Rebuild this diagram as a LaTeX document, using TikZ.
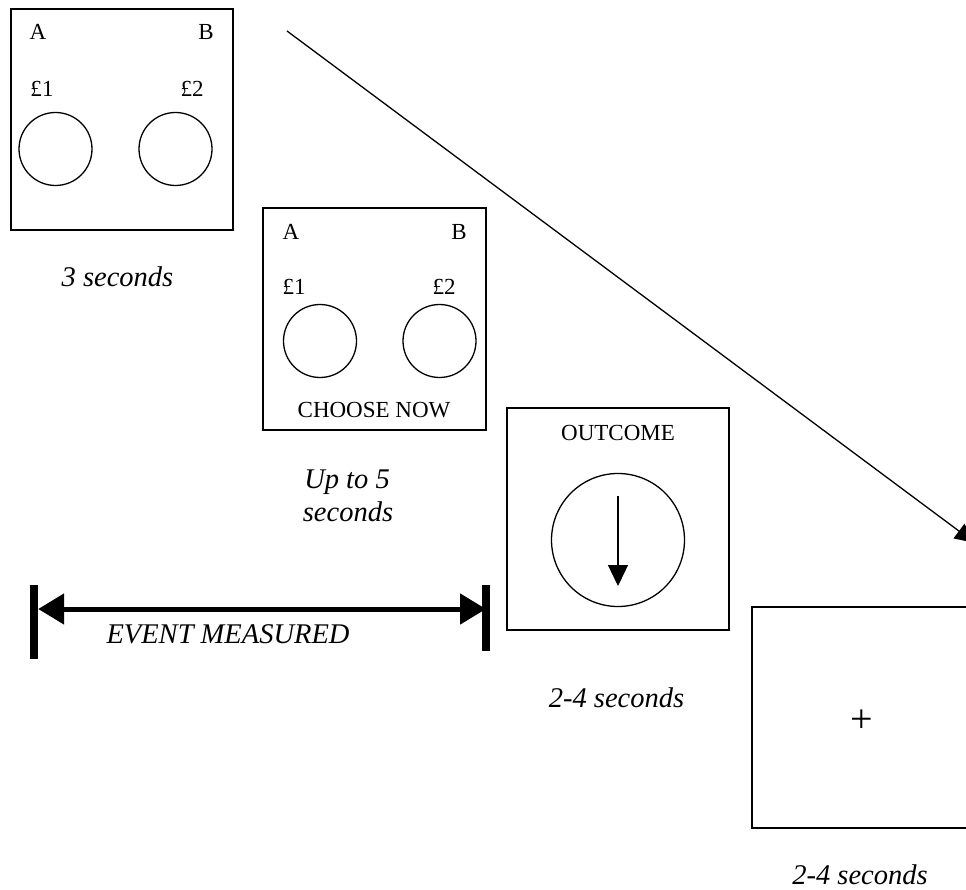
\documentclass[tikz,border=0pt]{standalone}
\usepackage{fontspec}
\setmainfont{Liberation Serif}
\usetikzlibrary{arrows.meta}
\begin{document}
\begin{tikzpicture}[x=1pt,y=-1pt,
  screen/.style={draw,line width=1.3pt,inner sep=0pt,minimum width=222pt,minimum height=221pt},
  ring/.style={draw,circle,line width=1.3pt,inner sep=0pt,minimum size=73pt},
  txt/.style={inner sep=0pt,anchor=base,font=\fontsize{23}{27}\selectfont},
  itxt/.style={inner sep=0pt,anchor=base,font=\fontsize{28.5}{33}\selectfont\itshape},
  bar/.style={fill=black,inner sep=0pt,minimum width=8pt},
  thin/.style={line width=1.3pt}]
\useasboundingbox (0,0) rectangle (966,890);
\clip (0,0) rectangle (966,890);
% screen 1
\node[screen] (s1) at (122,119.5) {};
\node[txt] (s1A) at (38,40) {A};
\node[txt] (s1B) at (206,40) {B};
\node[txt] (s1p1) at (42,97) {£1};
\node[txt] (s1p2) at (192,97) {£2};
\node[ring] (s1c1) at (55.5,149) {};
\node[ring] (s1c2) at (175.5,149) {};
\node[itxt] (t1) at (117.5,287) {3 seconds};
% screen 2
\node[screen,minimum width=223pt,minimum height=222pt] (s2) at (374.5,319) {};
\node[txt] (s2A) at (291,240) {A};
\node[txt] (s2B) at (459,240) {B};
\node[txt] (s2p1) at (294,295) {£1};
\node[txt] (s2p2) at (444,295) {£2};
\node[ring] (s2c1) at (320,341) {};
\node[ring] (s2c2) at (439.5,341) {};
\node[txt] (s2ch) at (374,417) {CHOOSE NOW};
\node[itxt] (t2a) at (347,488) {Up to 5};
\node[itxt] (t2b) at (348,521) {seconds};
% outcome
\node[screen,minimum width=222pt,minimum height=222pt] (s3) at (618,519) {};
\node[txt] (s3o) at (618,440) {OUTCOME};
\node[ring,minimum size=133pt] (s3c) at (618,540) {};
\coordinate (oa) at (618,496);
\coordinate (ob) at (618,586);
\draw[thin,-{Triangle[length=21pt,width=20pt]}] (oa) -- (ob);
\node[itxt] (t3) at (616.5,707) {2-4 seconds};
% fixation
\node[screen] (s4) at (863,717.5) {};
\node[txt,anchor=center,font=\fontsize{40}{40}\selectfont] (plus) at (862,721) {+};
\node[itxt] (t4) at (860,884) {2-4 seconds};
% long arrow
\coordinate (ls) at (287,31);
\coordinate (le) at (975,543);
\draw[thin,-{Triangle[length=20pt,width=18pt]}] (ls) -- (le);
% event measured
\node[bar,minimum height=74pt] (bl) at (34,622) {};
\node[bar,minimum height=66pt] (br) at (486,618) {};
\draw[line width=5pt,{Triangle[length=26pt,width=30pt]}-{Triangle[length=26pt,width=30pt]}] (bl.east |- 0,609) -- (br.center |- 0,609);
\node[itxt] (ev) at (228,643) {EVENT MEASURED};
\end{tikzpicture}
\end{document}
